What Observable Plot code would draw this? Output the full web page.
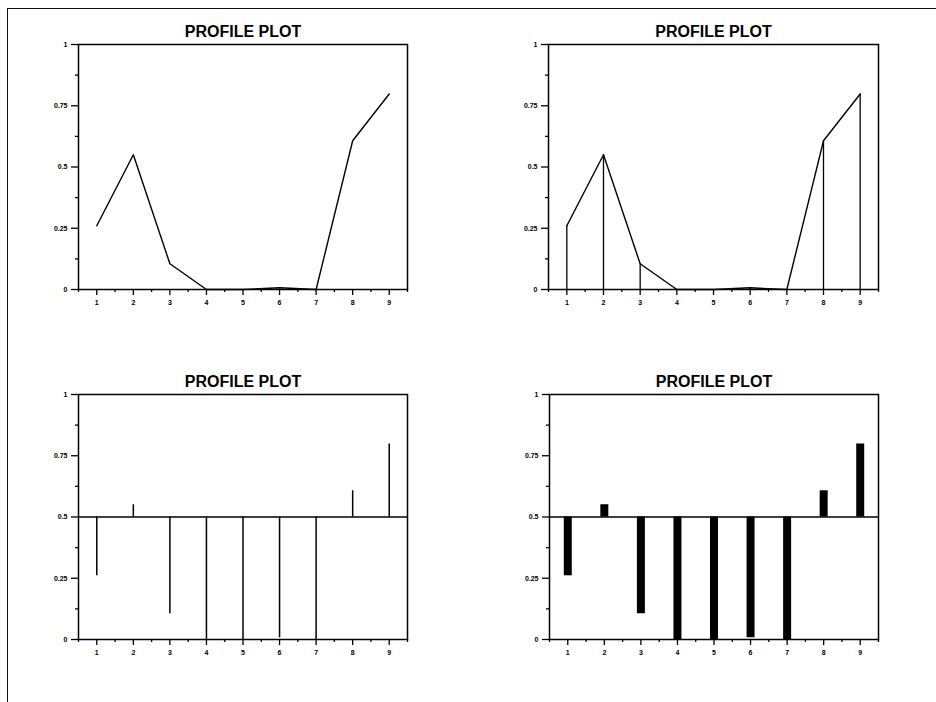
<!DOCTYPE html>
<html>
<head>
<meta charset="utf-8">
<script src="https://cdn.jsdelivr.net/npm/d3@7"></script>
<script src="https://cdn.jsdelivr.net/npm/@observablehq/plot@0.6"></script>
<style>
  html, body { margin: 0; padding: 0; background: #fff; }
  #root { position: relative; width: 936px; height: 702px; overflow: hidden; background: #fff; }
  #border { position: absolute; left: 7px; top: 8px; width: 1000px; height: 1000px;
            border-left: 1.6px solid #111; border-top: 1.6px solid #111; }
  .panel { position: absolute; }
</style>
</head>
<body>
<div id="root"><div id="border"></div></div>
<script>
const categories = [1, 2, 3, 4, 5, 6, 7, 8, 9];
const values = [0.26, 0.55, 0.105, 0.0, 0.0, 0.007, 0.0, 0.607, 0.798];
const yTicks = [0, 0.25, 0.5, 0.75, 1];
const yMinor = [0.125, 0.375, 0.625, 0.875];
const xMinor = [0.5, 1.5, 2.5, 3.5, 4.5, 5.5, 6.5, 7.5, 8.5, 9.5];
const titleText = "PROFILE PLOT";
const reference = 0.5;

const data = categories.map((c, i) => ({x: c, y: values[i]}));

function panel(kind, left, top, mLeft, mRight) {
  const marks = [];
  if (kind === "line" || kind === "linerule") {
    marks.push(Plot.line(data, {x: "x", y: "y", stroke: "#000", strokeWidth: 1.4}));
  }
  if (kind === "linerule") {
    marks.push(Plot.ruleX(data, {x: "x", y1: 0, y2: "y", stroke: "#000", strokeWidth: 1.3}));
  }
  if (kind === "needle") {
    marks.push(Plot.ruleX(data, {x: "x", y1: reference, y2: "y", stroke: "#000", strokeWidth: 1.5}));
    marks.push(Plot.ruleY([reference], {stroke: "#000", strokeWidth: 1.5}));
  }
  if (kind === "bar") {
    marks.push(Plot.ruleX(data, {x: "x", y1: reference, y2: "y", stroke: "#000", strokeWidth: 8, strokeLinecap: "butt"}));
    marks.push(Plot.ruleY([reference], {stroke: "#000", strokeWidth: 1.5}));
  }
  marks.push(Plot.frame({stroke: "#000", strokeWidth: 1.5}));
  marks.push(Plot.axisY(yTicks, {label: null, tickSize: 7, tickPadding: 4, tickFormat: d => String(d), stroke: "#000", strokeWidth: 1.3, fontWeight: "bold", fontSize: 7, fill: "#000"}));
  marks.push(Plot.axisY(yMinor, {label: null, tickSize: 3, tickFormat: () => "", stroke: "#000", strokeWidth: 1.3}));
  marks.push(Plot.axisX(categories, {label: null, tickSize: 6, tickPadding: 5, tickFormat: d => String(d), stroke: "#000", strokeWidth: 1.3, fontWeight: "bold", fontSize: 7, fill: "#000"}));
  marks.push(Plot.axisX(xMinor, {label: null, tickSize: 3, tickFormat: () => "", stroke: "#000", strokeWidth: 1.3}));
  marks.push(Plot.text([titleText], {frameAnchor: "top", dy: -13, lineAnchor: "middle", fontSize: 16, fontWeight: "bold", fill: "#000", fontFamily: "Liberation Sans, Arial, sans-serif"}));

  const chart = Plot.plot({
    width: 468,
    height: 340,
    marginLeft: mLeft,
    marginRight: mRight,
    marginTop: 44,
    marginBottom: 51,
    x: {type: "linear", domain: [0.5, 9.5], axis: null, label: null},
    y: {type: "linear", domain: [0, 1], axis: null, label: null},
    style: {fontFamily: "Liberation Sans, Arial, sans-serif", background: "transparent", color: "#000"},
    marks
  });
  chart.classList.add("panel");
  chart.style.left = left + "px";
  chart.style.top = top + "px";
  document.getElementById("root").appendChild(chart);
}

panel("line", 0, 0, 78, 61);
panel("linerule", 468, 0, 80, 58);
panel("needle", 0, 350, 78, 61);
panel("bar", 468, 350, 81, 58);
</script>
</body>
</html>
